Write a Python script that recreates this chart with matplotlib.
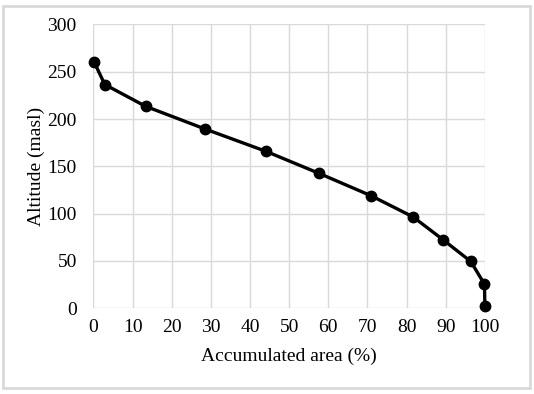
import matplotlib
matplotlib.use("Agg")
import matplotlib.pyplot as plt
from matplotlib.patches import Rectangle

# hypsometric curve values
area_pct = [0.2, 2.9, 13.3, 28.5, 44.0, 57.7, 70.9, 81.7, 89.3, 96.4, 99.9, 100.0]
altitude = [260, 236.5, 213.5, 189.5, 166, 142.5, 119, 96.5, 72.5, 49.5, 25.5, 2.5]

plt.rcParams["font.family"] = ["Liberation Serif", "DejaVu Serif"]

fig = plt.figure(figsize=(5.34, 3.94), dpi=100)
ax = fig.add_axes([0.175, 0.2175, 0.733, 0.7205])

ax.plot(area_pct, altitude, color="black", lw=2.4, marker="o", ms=7.5, clip_on=False, zorder=3)

ax.set_xlim(0, 100)
ax.set_ylim(0, 300)
ax.set_xticks(range(0, 101, 10))
ax.set_yticks(range(0, 301, 50))
ax.grid(color="#d9d9d9", lw=1)
for s in ax.spines.values():
    s.set_visible(False)
ax.tick_params(length=0, labelsize=14, colors="black")
ax.tick_params(axis="x", pad=8)
ax.tick_params(axis="y", pad=12)
ax.set_xlabel("Accumulated area (%)", fontsize=14, labelpad=8)
ax.set_ylabel("Altitude (masl)", fontsize=14, labelpad=2)

# chart-area border like the spreadsheet export
fig.patches.append(Rectangle((0.006, 0.015), 0.987, 0.97, transform=fig.transFigure,
                             fill=False, edgecolor="#d9d9d9", lw=2))

fig.savefig("out.png", dpi=100)
